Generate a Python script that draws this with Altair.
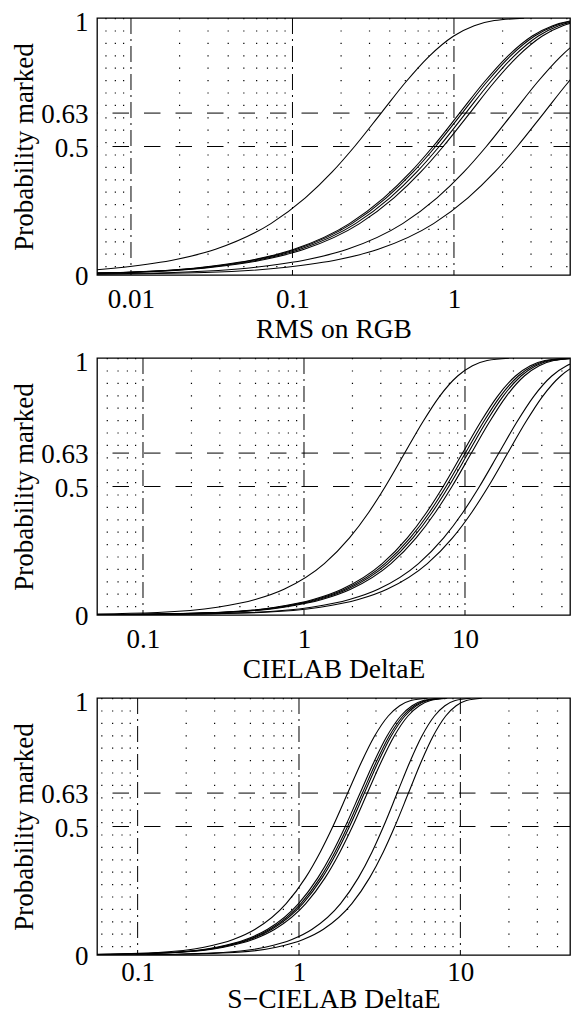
import altair as alt
import pandas as pd

FONT = "Liberation Serif"
FS = 27

# probability levels at which each curve's stimulus value was read
P_LEVELS = [0.001, 0.01, 0.03, 0.06, 0.1, 0.2, 0.3, 0.4, 0.5, 0.632,
            0.75, 0.85, 0.93, 0.97, 0.99, 0.999]

# Panel 1: RMS on RGB
RGB_CURVES = {
    "a": [0.000247, 0.00281, 0.00902, 0.01897, 0.0334, 0.0735, 0.1201, 0.1756,
          0.2424, 0.356, 0.5016, 0.6988, 0.9964, 1.335, 1.776, 2.719],
    "b1": [0.000758, 0.0086, 0.02763, 0.0581, 0.1022, 0.2251, 0.3677, 0.5376,
           0.7421, 1.09, 1.536, 2.140, 3.051, 4.088, 5.438, 8.325],
    "b2": [0.000785, 0.00892, 0.02865, 0.0602, 0.106, 0.2333, 0.3811, 0.5573,
           0.7693, 1.13, 1.592, 2.218, 3.163, 4.238, 5.638, 8.631],
    "b3": [0.000827, 0.00939, 0.03017, 0.0634, 0.1116, 0.2457, 0.4014, 0.5869,
           0.8102, 1.19, 1.677, 2.336, 3.331, 4.463, 5.937, 9.089],
    "b4": [0.000876, 0.00994, 0.03194, 0.0672, 0.1182, 0.2602, 0.425, 0.6214,
           0.8578, 1.26, 1.775, 2.473, 3.527, 4.725, 6.286, 9.624],
    "c": [0.00162, 0.01838, 0.05907, 0.1242, 0.2186, 0.4811, 0.7859, 1.149,
          1.586, 2.33, 3.283, 4.574, 6.522, 8.738, 11.62, 17.8],
    "d": [0.00252, 0.02856, 0.09177, 0.193, 0.3396, 0.7475, 1.221, 1.785,
          2.464, 3.62, 5.101, 7.106, 10.13, 13.58, 18.06, 27.65],
}

# Panel 2: CIELAB DeltaE
LAB_CURVES = {
    "a": [0.02086, 0.1231, 0.2893, 0.4982, 0.7513, 1.338, 1.917, 2.528,
          3.2, 4.24, 5.453, 6.937, 9.002, 11.13, 13.72, 18.74],
    "b1": [0.04772, 0.2817, 0.6618, 1.140, 1.719, 3.060, 4.386, 5.784,
           7.321, 9.7, 12.47, 15.87, 20.59, 25.47, 31.39, 42.87],
    "b2": [0.04969, 0.2933, 0.6891, 1.187, 1.79, 3.187, 4.567, 6.023,
           7.622, 10.1, 12.99, 16.52, 21.44, 26.52, 32.68, 44.64],
    "b3": [0.05166, 0.3049, 0.7164, 1.234, 1.861, 3.313, 4.748, 6.261,
           7.924, 10.5, 13.5, 17.18, 22.29, 27.57, 33.98, 46.41],
    "b4": [0.05412, 0.3194, 0.7505, 1.293, 1.949, 3.471, 4.974, 6.559,
           8.302, 11.0, 14.15, 18.0, 23.35, 28.89, 35.6, 48.62],
    "c": [0.0802, 0.4734, 1.112, 1.915, 2.888, 5.143, 7.371, 9.72,
          12.3, 16.3, 20.96, 26.67, 34.6, 42.8, 52.75, 72.05],
    "d": [0.09102, 0.5372, 1.262, 2.174, 3.278, 5.837, 8.366, 11.03,
          13.96, 18.5, 23.79, 30.27, 39.28, 48.58, 59.87, 81.77],
}

# Panel 3: S-CIELAB DeltaE
SLAB_CURVES = {
    "a": [0.03455, 0.1342, 0.2579, 0.3909, 0.5351, 0.8323, 1.096, 1.353,
          1.621, 2.01, 2.436, 2.929, 3.574, 4.205, 4.935, 6.261],
    "b1": [0.04126, 0.1603, 0.3079, 0.4668, 0.6389, 0.9938, 1.308, 1.616,
           1.935, 2.40, 2.909, 3.497, 4.267, 5.021, 5.892, 7.476],
    "b2": [0.04263, 0.1656, 0.3182, 0.4824, 0.6602, 1.027, 1.352, 1.670,
           2.0, 2.48, 3.006, 3.613, 4.409, 5.188, 6.088, 7.725],
    "b3": [0.04383, 0.1703, 0.3272, 0.496, 0.6788, 1.056, 1.39, 1.717,
           2.056, 2.55, 3.091, 3.715, 4.534, 5.335, 6.26, 7.943],
    "b4": [0.04573, 0.1776, 0.3413, 0.5174, 0.7081, 1.101, 1.45, 1.791,
           2.145, 2.66, 3.224, 3.876, 4.729, 5.565, 6.53, 8.286],
    "c": [0.09723, 0.3385, 0.6166, 0.904, 1.206, 1.81, 2.33, 2.831,
          3.339, 4.07, 4.856, 5.755, 6.907, 8.018, 9.288, 11.56],
    "d": [0.1142, 0.3976, 0.7242, 1.062, 1.417, 2.126, 2.737, 3.324,
          3.922, 4.78, 5.703, 6.759, 8.112, 9.417, 10.91, 13.58],
}

X_TITLES = ["RMS on RGB", "CIELAB DeltaE", "S\u2212CIELAB DeltaE"]
X_DOMAINS = [[0.00616, 5.23], [0.0518, 44.9], [0.056, 47.8]]
X_TICKS = [[0.01, 0.1, 1], [0.1, 1, 10], [0.1, 1, 10]]
DECADES = [[0.01, 0.1, 1], [0.1, 1, 10], [0.1, 1, 10]]
MINOR = [
    [0.007, 0.008, 0.009, 0.02, 0.03, 0.04, 0.05, 0.06, 0.07, 0.08, 0.09,
     0.2, 0.3, 0.4, 0.5, 0.6, 0.7, 0.8, 0.9, 2, 3, 4, 5],
    [0.06, 0.07, 0.08, 0.09, 0.2, 0.3, 0.4, 0.5, 0.6, 0.7, 0.8, 0.9,
     2, 3, 4, 5, 6, 7, 8, 9, 20, 30, 40],
    [0.06, 0.07, 0.08, 0.09, 0.2, 0.3, 0.4, 0.5, 0.6, 0.7, 0.8, 0.9,
     2, 3, 4, 5, 6, 7, 8, 9, 20, 30, 40],
]
X_LABEL_PAD = [32, 32.5, 25]
X_TITLE_OFFSET = [62, 62.5, 52.5]
Y_TICKS = [0, 0.5, 0.63, 1]
REF_LEVELS = [0.5, 0.63]


def panel(curves, domain, ticks, decades, minor, title, label_pad, title_y):
    xs = alt.Scale(type="log", domain=domain, nice=False)
    ys = alt.Scale(domain=[0, 1], nice=False, zero=False)
    xaxis = alt.Axis(
        values=ticks, format=".2~f", title=title, grid=False, ticks=False,
        tickSize=0, domain=False, labelFont=FONT, labelFontSize=FS,
        labelColor="black", labelPadding=label_pad, labelBaseline="alphabetic",
        labelFlush=False, labelOverlap=False, titleFont=FONT,
        titleFontSize=27.5, titleFontWeight="normal", titleColor="black",
        titleY=title_y, titleBaseline="alphabetic")
    yaxis = alt.Axis(
        values=Y_TICKS, format=".2~f", title="Probability marked", grid=False,
        ticks=False, tickSize=0, domain=False, labelFont=FONT,
        labelFontSize=FS, labelColor="black", labelPadding=9,
        labelOffset={"condition": {"test": "datum.value == 1", "value": 4.5},
                     "value": 1.5},
        labelBaseline="middle", labelFlush=False, labelOverlap=False,
        titleFont=FONT, titleFontSize=FS, titleFontWeight="normal",
        titleColor="black", titleX=-65, titleBaseline="alphabetic")
    X = alt.X("x:Q", scale=xs, axis=xaxis)
    Y = alt.Y("p:Q", scale=ys, axis=yaxis)

    rows = []
    for name, xv in curves.items():
        for i, (x, p) in enumerate(zip(xv, P_LEVELS)):
            rows.append({"curve": name, "i": i, "x": x, "p": p})
    df = pd.DataFrame(rows)

    minor_l = alt.Chart(pd.DataFrame({"x": minor})).mark_rule(
        color="black", strokeWidth=1.2, strokeDash=[1.2, 11.2]).encode(x=X)
    dec_l = alt.Chart(pd.DataFrame({"x": decades})).mark_rule(
        color="black", strokeWidth=1, strokeDash=[16, 5, 2, 5]).encode(x=X)
    ref_l = alt.Chart(pd.DataFrame({"p": REF_LEVELS})).mark_rule(
        color="black", strokeWidth=1, strokeDash=[16.5, 15]).encode(y=Y)
    curve_l = alt.Chart(df).mark_line(
        color="black", strokeWidth=1.1, interpolate="monotone", clip=True
    ).encode(x=X, y=Y, detail="curve:N", order="i:Q")
    return alt.layer(minor_l, dec_l, ref_l, curve_l).properties(
        width=473, height=257)


panels = [
    panel(c, X_DOMAINS[k], X_TICKS[k], DECADES[k], MINOR[k], X_TITLES[k],
          X_LABEL_PAD[k], X_TITLE_OFFSET[k])
    for k, c in enumerate([RGB_CURVES, LAB_CURVES, SLAB_CURVES])
]

chart = alt.vconcat(*panels, spacing=83, bounds="flush").properties(
    autosize=alt.AutoSizeParams(type="none"),
    padding={"left": 89, "top": 10, "right": 1, "bottom": 995},
    background="white",
).configure_view(stroke="black", strokeWidth=1.3)

chart.save("out.html", embed_options={"renderer": "svg", "actions": False})
